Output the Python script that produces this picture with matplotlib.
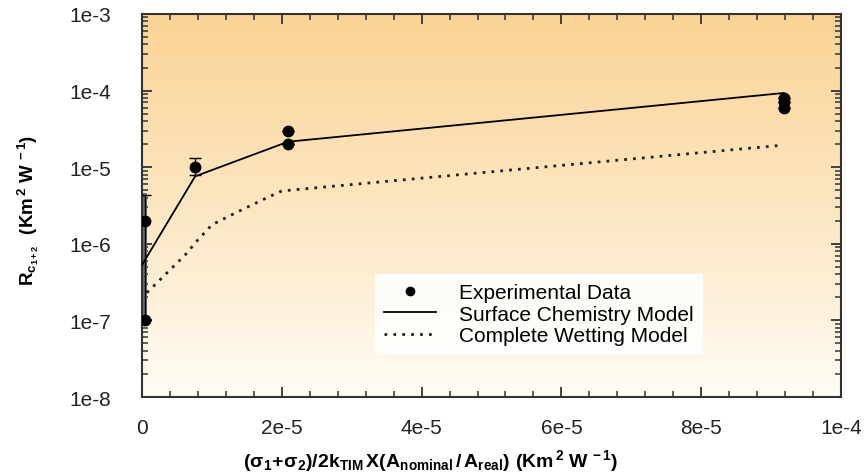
import numpy as np
import matplotlib
matplotlib.use('Agg')
import matplotlib.pyplot as plt
from matplotlib.lines import Line2D
from matplotlib.ticker import FixedLocator, FixedFormatter, LogLocator, MultipleLocator

plt.rcParams['font.family'] = ['Liberation Sans', 'DejaVu Sans']
plt.rcParams['mathtext.fontset'] = 'custom'
plt.rcParams['mathtext.bf'] = 'Liberation Sans:bold'
plt.rcParams['mathtext.rm'] = 'Liberation Sans:bold'
plt.rcParams['mathtext.it'] = 'Liberation Sans:bold'

# Experimental data
exp_x = [4e-7, 4e-7, 7.6e-6, 2.09e-5, 2.09e-5, 9.18e-5, 9.18e-5, 9.18e-5]
exp_y = [2e-6, 1e-7, 1e-5, 3e-5, 2e-5, 8e-5, 7e-5, 6e-5]
exp_lo = [1.9e-6, 0, 2e-6, 0, 0, 0, 0, 0]
exp_hi = [2.4e-6, 0, 3e-6, 0, 0, 0, 0, 0]

# Surface chemistry model
surf_x = [0, 7.6e-6, 2.09e-5, 9.18e-5]
surf_y = [5.3e-7, 7.6e-6, 2.15e-5, 9.3e-5]

# Complete wetting model
wet_x = [7e-7, 6.2e-6, 7.9e-6, 1.0e-5, 1.4e-5, 1.79e-5, 2.0e-5, 9.17e-5]
wet_y = [2.3e-7, 7.2e-7, 1.1e-6, 1.77e-6, 2.7e-6, 4e-6, 4.9e-6, 1.94e-5]

xticks = [0, 2e-5, 4e-5, 6e-5, 8e-5, 1e-4]
xticklabels = ['0', '2e-5', '4e-5', '6e-5', '8e-5', '1e-4']
yticks = [1e-8, 1e-7, 1e-6, 1e-5, 1e-4, 1e-3]
yticklabels = ['1e-8', '1e-7', '1e-6', '1e-5', '1e-4', '1e-3']

fig = plt.figure(figsize=(8.67, 4.77), dpi=100)
ax = fig.add_axes([0.1638, 0.1656, 0.8062, 0.803])
ax.set_yscale('log')
ax.set_xlim(0, 1e-4)
ax.set_ylim(1e-8, 1e-3)

# orange gradient background
grad = np.linspace(0, 1, 256).reshape(-1, 1)
top = np.array([250, 211, 148]) / 255.
bot = np.array([255, 253, 247]) / 255.
img = bot + (top - bot) * grad[..., None] ** 0.9
ax.imshow(img, extent=[0, 1, 0, 1], transform=ax.transAxes, origin='lower',
          aspect='auto', zorder=0)

# gray band along the left axis (overlapping error bars at x ~ 0)
ax.plot([2.5e-7, 2.5e-7], [1e-7, 4.4e-6], color='#6a6a6a', lw=3.5, zorder=2)

ax.plot(surf_x, surf_y, color='black', lw=1.3, zorder=3)
ax.plot(wet_x, wet_y, color='#222222', lw=2, linestyle=(0, (1, 2.2)), zorder=3)
ax.errorbar(exp_x, exp_y, yerr=[exp_lo, exp_hi], fmt='o', color='black', ms=7.5,
            elinewidth=1, capsize=4, zorder=4)

ax.xaxis.set_major_locator(FixedLocator(xticks))
ax.xaxis.set_major_formatter(FixedFormatter(xticklabels))
ax.xaxis.set_minor_locator(MultipleLocator(4e-6))
ax.yaxis.set_major_locator(FixedLocator(yticks))
ax.yaxis.set_major_formatter(FixedFormatter(yticklabels))
ax.yaxis.set_minor_locator(LogLocator(base=10, subs=np.arange(2, 10), numticks=20))
ax.yaxis.set_minor_formatter(FixedFormatter([]))

ax.tick_params(which='both', direction='in', top=True, right=True, colors='#333333',
               labelcolor='#222222', labelsize=15)
ax.tick_params(which='major', length=7, width=1.3)
ax.tick_params(axis='y', which='major', pad=22)
ax.tick_params(axis='x', which='major', pad=15)
ax.tick_params(which='minor', length=4, width=1.1)
for s in ax.spines.values():
    s.set_linewidth(1.5)
    s.set_color('#333333')

ax.set_xlabel(r'$\mathbf{(\sigma_1\!+\!\sigma_2)/2k_{TIM}\,X(A_{nominal}\,/\,A_{real})\ (Km^{\,2}\ W^{\,-1})}$',
              fontsize=14)
ax.xaxis.set_label_coords(0.413, -0.13)
ax.set_ylabel(r'$\mathbf{R_{c_{1+2}}\ \ (Km^{\,2}\ W^{\,-1})}$', fontsize=13.5)
ax.yaxis.set_label_coords(-0.145, 0.49)

handles = [Line2D([], [], marker='o', ms=6, color='black', linestyle='none'),
           Line2D([], [], color='black', lw=1.3),
           Line2D([], [], color='#222222', lw=2, linestyle=(0, (1, 2.2)))]
labels = ['Experimental Data', 'Surface Chemistry Model', 'Complete Wetting Model']
leg = ax.legend(handles, labels, loc='upper left', bbox_to_anchor=(0.333, 0.322),
                fontsize=15, frameon=True, handlelength=2.5, borderpad=0.45,
                labelspacing=0.12, handletextpad=1.1, fancybox=False,
                borderaxespad=0)
leg.get_frame().set_facecolor('white')
leg.get_frame().set_edgecolor('none')
leg.get_frame().set_alpha(0.85)

fig.savefig('out.png', dpi=100)
